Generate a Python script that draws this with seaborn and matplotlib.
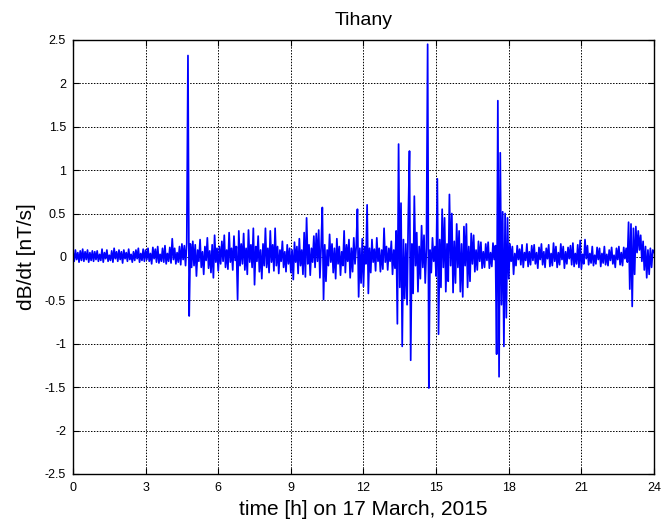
import numpy as np
import pandas as pd
import matplotlib
matplotlib.use("Agg")
import matplotlib.pyplot as plt
import seaborn as sns

# Sampling interval of the dB/dt record, in hours
step_h = 0.05

# dB/dt [nT/s], one row per hour (20 samples each), plus the final sample at 24 h
dbdt_h00 = [0.06, -0.05, 0.08, -0.03, 0.05, -0.06, 0.07, -0.04, 0.09, -0.05, 0.06, -0.03, 0.08, -0.06, 0.05, -0.04, 0.07, -0.05, 0.06, -0.03]
dbdt_h01 = [0.07, -0.05, 0.03, -0.04, 0.09, -0.06, 0.05, -0.02, 0.08, -0.05, 0.02, -0.04, 0.07, -0.06, 0.10, -0.02, 0.06, -0.05, 0.08, -0.03]
dbdt_h02 = [0.06, -0.07, 0.08, -0.02, 0.05, -0.05, 0.09, -0.03, 0.03, -0.06, 0.06, -0.04, 0.08, -0.02, 0.10, -0.06, 0.04, -0.04, 0.09, -0.05]
dbdt_h03 = [0.08, -0.03, 0.10, -0.05, 0.04, -0.08, 0.11, -0.02, 0.09, -0.06, 0.12, -0.07, 0.03, -0.05, 0.10, -0.06, 0.13, -0.08, 0.04, -0.05]
dbdt_h04 = [0.11, -0.07, 0.21, -0.03, 0.10, -0.08, 0.05, -0.06, 0.12, -0.09, 0.15, -0.03, 0.13, -0.10, 0.16, 2.32, -0.68, 0.15, -0.12, 0.18]
dbdt_h05 = [-0.10, 0.14, -0.22, 0.08, -0.05, 0.20, -0.12, 0.06, -0.20, 0.12, -0.04, 0.22, -0.13, 0.07, -0.18, 0.14, -0.24, 0.25, -0.06, 0.10]
dbdt_h06 = [-0.16, 0.12, -0.08, 0.18, -0.05, 0.25, -0.12, 0.08, -0.14, 0.28, -0.06, 0.10, -0.15, 0.24, -0.04, 0.12, -0.49, 0.30, -0.10, 0.15]
dbdt_h07 = [-0.08, 0.27, -0.15, 0.10, -0.20, 0.31, -0.06, 0.14, -0.12, 0.33, -0.32, 0.12, -0.05, 0.24, -0.17, 0.08, -0.25, 0.15, -0.10, 0.33]
dbdt_h08 = [-0.12, 0.10, -0.18, 0.30, -0.06, 0.14, -0.16, 0.33, -0.10, 0.12, -0.19, 0.08, -0.05, 0.18, -0.12, 0.06, -0.17, 0.14, -0.08, 0.10]
dbdt_h09 = [-0.18, 0.08, -0.26, 0.17, -0.06, 0.12, -0.19, 0.21, -0.10, 0.08, -0.20, 0.28, -0.23, 0.45, -0.08, 0.14, -0.21, 0.10, -0.06, 0.24]
dbdt_h10 = [-0.12, 0.27, -0.05, 0.31, -0.24, 0.12, 0.57, -0.49, 0.14, -0.28, 0.08, -0.10, 0.26, -0.06, 0.15, -0.18, 0.10, -0.25, 0.21, -0.08]
dbdt_h11 = [0.12, -0.21, 0.06, -0.10, 0.30, -0.18, 0.14, -0.05, 0.20, -0.24, 0.10, -0.17, 0.22, -0.08, 0.12, 0.55, -0.46, 0.10, -0.30, 0.21]
dbdt_h12 = [-0.34, 0.12, -0.08, 0.60, -0.42, 0.10, -0.18, 0.20, -0.06, 0.09, -0.16, 0.22, -0.05, 0.10, -0.17, 0.08, -0.14, 0.33, -0.06, 0.12]
dbdt_h13 = [-0.15, 0.10, -0.05, 0.18, -0.20, 0.08, -0.13, 0.30, -0.77, 1.30, -0.35, 0.62, -1.03, 0.20, -0.48, 0.15, -0.55, 0.45, 1.22, -1.19]
dbdt_h14 = [0.15, -0.42, 0.70, -0.10, 0.28, -0.40, 0.12, -0.25, 0.36, -0.12, 0.25, -0.30, 0.10, 2.45, -1.51, 0.08, -0.18, 0.22, -0.05, 0.12]
dbdt_h15 = [-0.22, 0.90, -0.89, 0.20, -0.35, 0.55, -0.12, 0.45, -0.40, 0.15, -0.28, 0.72, -0.10, 0.50, -0.41, 0.18, -0.30, 0.38, -0.12, 0.30]
dbdt_h16 = [-0.40, 0.15, -0.46, 0.35, -0.10, 0.38, -0.35, 0.12, -0.28, 0.27, -0.08, 0.25, -0.17, 0.08, -0.15, 0.18, -0.05, 0.17, -0.13, 0.06]
dbdt_h17 = [-0.12, 0.15, -0.04, 0.17, -0.13, 0.05, -0.11, 0.16, -0.03, 0.13, -1.12, 1.80, -1.38, 1.20, -0.55, 0.52, -1.03, 0.50, -0.70, 0.45]
dbdt_h18 = [-0.25, 0.15, -0.05, 0.12, -0.20, 0.04, -0.10, 0.13, -0.03, 0.09, -0.09, 0.14, -0.12, 0.05, -0.04, 0.15, -0.11, 0.06, -0.09, 0.13]
dbdt_h19 = [-0.04, 0.14, -0.08, 0.05, -0.13, 0.11, -0.03, 0.15, -0.09, 0.06, -0.12, 0.10, -0.02, 0.14, -0.11, 0.04, -0.10, 0.16, -0.05, 0.12]
dbdt_h20 = [-0.12, 0.05, -0.09, 0.15, -0.03, 0.12, -0.13, 0.06, -0.08, 0.11, -0.02, 0.13, -0.09, 0.16, -0.11, 0.04, -0.08, 0.14, -0.12, 0.19]
dbdt_h21 = [-0.14, 0.03, -0.08, 0.20, -0.02, 0.13, -0.09, 0.04, -0.07, 0.12, -0.10, 0.02, -0.08, 0.11, -0.03, 0.10, -0.11, 0.04, -0.07, 0.12]
dbdt_h22 = [-0.09, 0.03, -0.10, 0.08, -0.04, 0.11, -0.08, 0.02, -0.12, 0.10, -0.03, 0.12, -0.09, 0.05, -0.10, 0.11, -0.02, 0.10, -0.06, 0.40]
dbdt_h23 = [-0.37, 0.38, -0.57, 0.33, -0.20, 0.35, 0.05, 0.30, 0.08, 0.25, -0.05, 0.18, -0.15, 0.12, -0.24, 0.08, -0.20, 0.10, -0.12, 0.08]
dbdt_end = [0.05]

hourly_rows = [dbdt_h00, dbdt_h01, dbdt_h02, dbdt_h03, dbdt_h04, dbdt_h05,
               dbdt_h06, dbdt_h07, dbdt_h08, dbdt_h09, dbdt_h10, dbdt_h11,
               dbdt_h12, dbdt_h13, dbdt_h14, dbdt_h15, dbdt_h16, dbdt_h17,
               dbdt_h18, dbdt_h19, dbdt_h20, dbdt_h21, dbdt_h22, dbdt_h23, dbdt_end]
dbdt = [v for row in hourly_rows for v in row]
hours = np.round(np.arange(len(dbdt)) * step_h, 2)

x_ticks = [0, 3, 6, 9, 12, 15, 18, 21, 24]
y_ticks = [-2.5, -2, -1.5, -1, -0.5, 0, 0.5, 1, 1.5, 2, 2.5]
y_tick_labels = ["-2.5", "-2", "-1.5", "-1", "-0.5", "0", "0.5", "1", "1.5", "2", "2.5"]

sns.set_theme(style="white")
plt.rcParams["font.family"] = ["Liberation Sans", "DejaVu Sans"]

df = pd.DataFrame({"time": hours, "dbdt": dbdt})

fig = plt.figure(figsize=(6.61, 5.23), dpi=100)
ax = fig.add_axes([0.1104, 0.0937, 0.879, 0.830])

sns.lineplot(data=df, x="time", y="dbdt", ax=ax, color="#0000ff",
             linewidth=1.25, estimator=None, sort=False)

ax.set_xlim(0, 24)
ax.set_ylim(-2.5, 2.5)
ax.set_xticks(x_ticks)
ax.set_xticklabels([str(t) for t in x_ticks])
ax.set_yticks(y_ticks)
ax.set_yticklabels(y_tick_labels)

ax.grid(True, color="black", linestyle=(0, (1.5, 1.5)), linewidth=0.7)
ax.tick_params(direction="in", length=4, width=0.8, colors="black",
               labelsize=9, top=True, right=True, bottom=True, left=True)
ax.tick_params(axis="x", pad=6)
ax.tick_params(axis="y", pad=5)
for spine in ax.spines.values():
    spine.set_visible(True)
    spine.set_color("black")
    spine.set_linewidth(1.0)

ax.set_title("Tihany", fontsize=14, color="black", pad=11)
ax.set_xlabel("time [h] on 17 March, 2015", fontsize=15, color="black", labelpad=4)
ax.set_ylabel("dB/dt [nT/s]", fontsize=15, color="black", labelpad=6)

fig.savefig("out.png", dpi=100, facecolor="white")
